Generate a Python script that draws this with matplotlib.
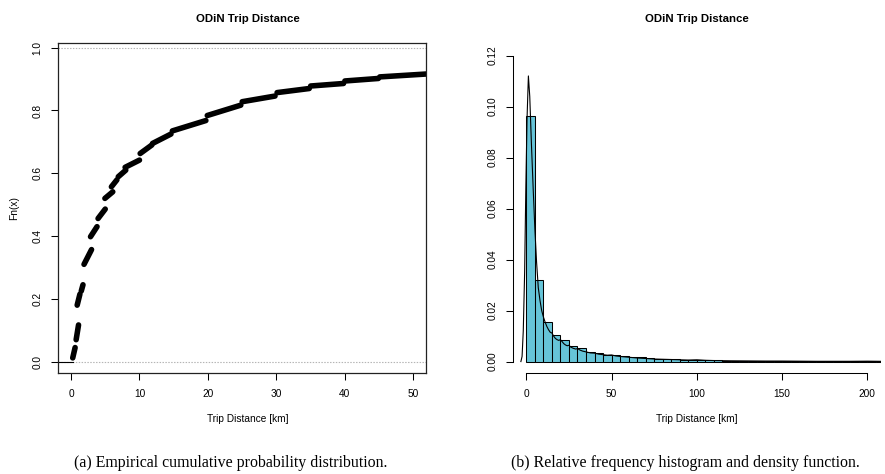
import matplotlib
matplotlib.use('Agg')
import matplotlib.pyplot as plt
import numpy as np

plt.rcParams['font.family'] = ['Liberation Sans', 'DejaVu Sans']

# ECDF runs between heaping jumps: start/end distance [km] and Fn(x) at each end
run_x0 = [0.25, 0.75, 0.9, 1.5, 1.9, 2.85, 3.95, 4.95, 5.9, 6.9, 7.9, 10.1, 11.9, 14.8, 19.9, 25.0, 30.1, 35.0, 40.0, 45.1]
run_x1 = [0.6, 1.1, 1.3, 1.75, 3.0, 3.8, 5.0, 6.1, 6.7, 8.0, 10.0, 11.8, 14.6, 19.7, 24.8, 29.8, 34.8, 39.8, 44.9, 52.5]
run_f0 = [0.012, 0.07, 0.18, 0.225, 0.31, 0.398, 0.456, 0.52, 0.557, 0.589, 0.619, 0.663, 0.695, 0.735, 0.784, 0.828, 0.857, 0.878, 0.894, 0.907]
run_f1 = [0.045, 0.117, 0.215, 0.245, 0.357, 0.43, 0.486, 0.541, 0.579, 0.61, 0.642, 0.69, 0.725, 0.768, 0.817, 0.846, 0.870, 0.886, 0.902, 0.917]

# histogram, 5 km bins starting at 0
bin_width = 5
hist_dens = [0.0961, 0.0319, 0.0156, 0.0104, 0.0085, 0.0061, 0.0052, 0.0039, 0.0033, 0.0026,
             0.0024, 0.0021, 0.0018, 0.0016, 0.0014, 0.0012, 0.0011, 0.0009, 0.0008, 0.0007,
             0.0006, 0.0005, 0.0005, 0.0004, 0.0004, 0.0003, 0.0003, 0.0003, 0.0002, 0.0002,
             0.0002, 0.0002, 0.0001, 0.0001, 0.0001, 0.0001, 0.0001, 0.0001, 0.0001, 0.0001,
             0.0001, 0.0001]

# kernel density estimate
kde_x = [-3.2, -2.5, -1.8, -1.0, -0.3, 0.4, 1.2, 2.0, 3.0, 4.0, 5.0, 6.0, 7.0, 8.0, 9.0, 10.0,
         11.0, 12.0, 13.0, 14.0, 15.0, 16.0, 17.0, 18.0, 19.0, 20.0, 21.0, 22.0, 23.0, 24.0, 25.0,
         26.0, 27.5, 29.0, 30.0, 31.5, 33.0, 35.0, 37.5, 40.0, 42.5, 45.0, 47.5, 50.0, 52.5, 55.0,
         60.0, 65.0, 70.0, 75.0, 80.0, 85.0, 90.0, 95.0, 100.0, 105.0, 110.0, 120.0, 130.0, 140.0,
         150.0, 160.0, 170.0, 180.0, 190.0, 200.0, 210.0]
kde_y = [0.0, 0.002, 0.012, 0.035, 0.068, 0.095, 0.112, 0.104, 0.085, 0.068, 0.052, 0.039, 0.029,
         0.024, 0.020, 0.0175, 0.0155, 0.0138, 0.0125, 0.0115, 0.0112, 0.0100, 0.0091, 0.0086,
         0.0083, 0.0086, 0.0078, 0.0070, 0.0065, 0.0062, 0.0064, 0.0057, 0.0052, 0.0049, 0.0051,
         0.0045, 0.0041, 0.0038, 0.0034, 0.0033, 0.0029, 0.0027, 0.0025, 0.0026, 0.0022, 0.0020,
         0.0017, 0.0014, 0.0012, 0.0010, 0.0009, 0.0008, 0.0007, 0.0006, 0.0007, 0.0005, 0.0004,
         0.0003, 0.00025, 0.0002, 0.0002, 0.00015, 0.0001, 0.0001, 0.0001, 0.00015, 0.00008]

ecdf_xticks = [0, 10, 20, 30, 40, 50]
ecdf_yticks = [0.0, 0.2, 0.4, 0.6, 0.8, 1.0]
hist_xticks = [0, 50, 100, 150, 200]
hist_yticks = [0.00, 0.02, 0.04, 0.06, 0.08, 0.10, 0.12]

title = 'ODiN Trip Distance'
xlab = 'Trip Distance [km]'
cap_a = '(a) Empirical cumulative probability distribution.'
cap_b = '(b) Relative frequency histogram and density function.'

W, H = 885, 474
fs = 7.3


def r_style(ax):
    ax.tick_params(length=5, width=0.75, pad=6, labelsize=fs, colors='black')
    for lab in ax.get_yticklabels():
        lab.set_rotation(90)
        lab.set_va('center')
    ax.set_xlabel(xlab, fontsize=fs, labelpad=11)
    ax.set_title(title, fontsize=8.2, fontweight='bold', pad=15.5)


def plot_ecdf(fig):
    ax = fig.add_axes([58 / W, 1 - 373.3 / H, 368 / W, 330 / H])
    ax.set_xlim(-1.9, 51.85)
    ax.set_ylim(-0.037, 1.014)
    for y in (0, 1):
        ax.axhline(y, color='#b5b5b5', lw=0.8, ls=(0, (1.3, 1.3)), zorder=1)
    ax.plot([-1.9, run_x0[0]], [0, 0], color='black', lw=0.8)
    for x0, x1, f0, f1 in zip(run_x0, run_x1, run_f0, run_f1):
        ax.plot([x0, x1], [f0, f1], color='black', lw=4.0, solid_capstyle='round')
    ax.set_xticks(ecdf_xticks)
    ax.set_yticks(ecdf_yticks)
    ax.set_yticklabels([f'{v:.1f}' for v in ecdf_yticks])
    for sp in ax.spines.values():
        sp.set_linewidth(0.9)
        sp.set_color('#222222')
    r_style(ax)
    ax.set_ylabel('Fn(x)', fontsize=fs, labelpad=10)
    ax.xaxis.label.set_x(0.516)
    ax.title.set_x(0.516)
    return ax


def plot_hist(fig):
    ax = fig.add_axes([512.7 / W, 1 - 373.3 / H, 368.3 / W, 330 / H])
    ax.set_xlim(-8, 208)
    ax.set_ylim(-0.0046, 0.1248)
    edges = np.arange(len(hist_dens)) * bin_width
    ax.bar(edges, hist_dens, width=bin_width, align='edge', color='#66c4d8',
           edgecolor='black', linewidth=0.75)
    ax.plot(kde_x, kde_y, color='black', lw=0.8)
    ax.set_xticks(hist_xticks)
    ax.set_yticks(hist_yticks)
    ax.set_yticklabels([f'{v:.2f}' for v in hist_yticks])
    for side in ('top', 'right'):
        ax.spines[side].set_visible(False)
    ax.spines['left'].set_bounds(0, 0.12)
    ax.spines['bottom'].set_bounds(0, 200)
    for side in ('left', 'bottom'):
        ax.spines[side].set_linewidth(0.75)
    r_style(ax)
    return ax


def main():
    fig = plt.figure(figsize=(W / 100, H / 100), dpi=100)
    plot_ecdf(fig)
    plot_hist(fig)
    fig.text(231 / W, 1 - 463 / H, cap_a, family='Liberation Serif', fontsize=11.4, ha='center', va='center')
    fig.text(685 / W, 1 - 463 / H, cap_b, family='Liberation Serif', fontsize=11.4, ha='center', va='center')
    fig.savefig('out.png', dpi=100)


if __name__ == '__main__':
    main()
